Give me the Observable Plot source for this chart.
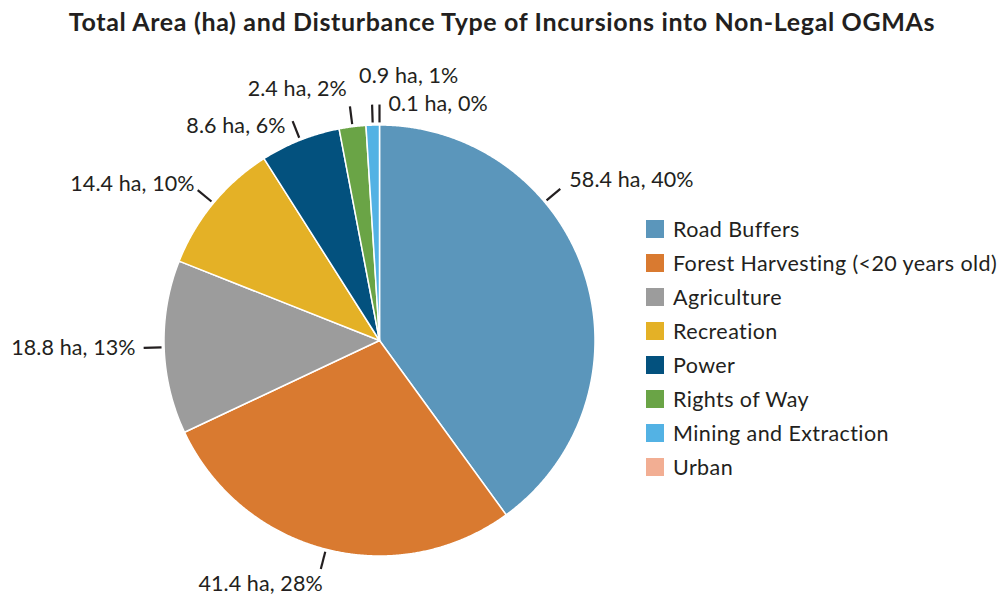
<!DOCTYPE html>
<html><head><meta charset="utf-8">
<script src="https://cdn.jsdelivr.net/npm/d3@7"></script>
<script src="https://cdn.jsdelivr.net/npm/@observablehq/plot@0.6"></script>
<style>
body{margin:0;background:#fff;font-family:Lato,"Noto Sans",sans-serif;color:#231f20;}
#wrap{position:relative;width:1004px;height:597px;overflow:hidden;}
#title{position:absolute;top:5px;left:0;width:1004px;text-align:center;font-weight:bold;font-size:25px;letter-spacing:0.65px;line-height:32px;white-space:nowrap;}
#chart{position:absolute;top:52px;left:0;}
#legend{position:absolute;left:646px;top:212px;}
.lg-swatch{height:34px;padding-bottom:0 !important;}
.lg-swatch-label{font-size:21.5px;letter-spacing:0.4px;overflow:visible !important;}
.lg-swatch > svg{margin-right:9px !important;}
</style></head><body>
<div id="wrap">
<div id="title">Total Area (ha) and Disturbance Type of Incursions into Non-Legal OGMAs</div>
<div id="chart"></div>
<div id="legend"></div>
</div>
<script>
const categories = ["Road Buffers","Forest Harvesting (<20 years old)","Agriculture","Recreation","Power","Rights of Way","Mining and Extraction","Urban"];
const areas = [58.4, 41.4, 18.8, 14.4, 8.6, 2.4, 0.9, 0.1];
const percents = [40, 28, 13, 10, 6, 2, 1, 0];
const colors = ["#5b96bb","#d97a30","#9c9c9c","#e4b126","#03517e","#6aa446","#53b2e4","#f2ae93"];

// layout (pixels)
const W = 1004, H = 545, R = 215.5, CX = 379, CY = 288;
// label placement: anchor and nudge (px) from leader end
const labelPlacement = [
  ["start", 9, -9], ["end", 2, 15], ["end", -8, 0], ["end", -3, -6],
  ["end", -7, 5], ["end", -3, -17], ["start", -13, -29], ["start", 9, 0]
];

// slices are drawn from the rounded percentages, as in the original
const arcs = d3.pie().sort(null).value(d => d)(percents);
const slices = [];
arcs.forEach((a, i) => {
  if (a.endAngle - a.startAngle <= 0) return;
  slices.push({cat: categories[i], x: 0, y: 0});
  const n = Math.max(2, Math.ceil((a.endAngle - a.startAngle) / 0.005));
  for (let k = 0; k <= n; k++) {
    const t = a.startAngle + (a.endAngle - a.startAngle) * k / n;
    slices.push({cat: categories[i], x: Math.sin(t), y: Math.cos(t)});
  }
});

// leader angles: slice mid-angles, first label pulled up away from the legend
const deg = Math.PI / 180;
const ang = arcs.map(a => (a.startAngle + a.endAngle) / 2);
ang[0] = Math.min(ang[0], 50 * deg);
const r1 = 1.012, r2 = 1.095;
const labels = arcs.map((a, i) => {
  const t = ang[i];
  const ex = r2 * Math.sin(t), ey = r2 * Math.cos(t);
  const [anchor, dx, dy] = labelPlacement[i];
  return {
    x1: r1 * Math.sin(t), y1: r1 * Math.cos(t), x2: ex, y2: ey,
    tx: ex + dx / R, ty: ey - dy / R, anchor,
    text: `${areas[i]} ha, ${percents[i]}%`
  };
});

const color = {domain: categories, range: colors};
const textStyle = {fontSize: 21.5, fill: "#231f20", style: "letter-spacing:0.1px"};
const plot = Plot.plot({
  width: W, height: H, margin: 0,
  style: {fontFamily: "Lato, 'Noto Sans', sans-serif", color: "#231f20", background: "transparent", letterSpacing: "0.1px"},
  x: {domain: [-CX / R, (W - CX) / R], range: [0, W], axis: null},
  y: {domain: [-(H - CY) / R, CY / R], range: [H, 0], axis: null},
  color,
  marks: [
    Plot.line(slices, {x: "x", y: "y", z: "cat", fill: "cat", stroke: "white", strokeWidth: 1.5, curve: "linear-closed"}),
    Plot.link(labels, {x1: "x1", y1: "y1", x2: "x2", y2: "y2", stroke: "#231f20", strokeWidth: 2.2}),
    Plot.text(labels.filter(d => d.anchor === "start"), {x: "tx", y: "ty", text: "text", textAnchor: "start", fontSize: 21.5, fill: "#231f20"}),
    Plot.text(labels.filter(d => d.anchor === "end"), {x: "tx", y: "ty", text: "text", textAnchor: "end", fontSize: 21.5, fill: "#231f20"})
  ]
});
document.getElementById("chart").appendChild(plot);

const legend = Plot.legend({
  color: {type: "categorical", ...color},
  legend: "swatches", columns: 1, swatchSize: 18, className: "lg",
  style: {fontFamily: "Lato, 'Noto Sans', sans-serif", fontSize: "21.5px", color: "#231f20"}
});
document.getElementById("legend").appendChild(legend);
</script>
</body></html>
